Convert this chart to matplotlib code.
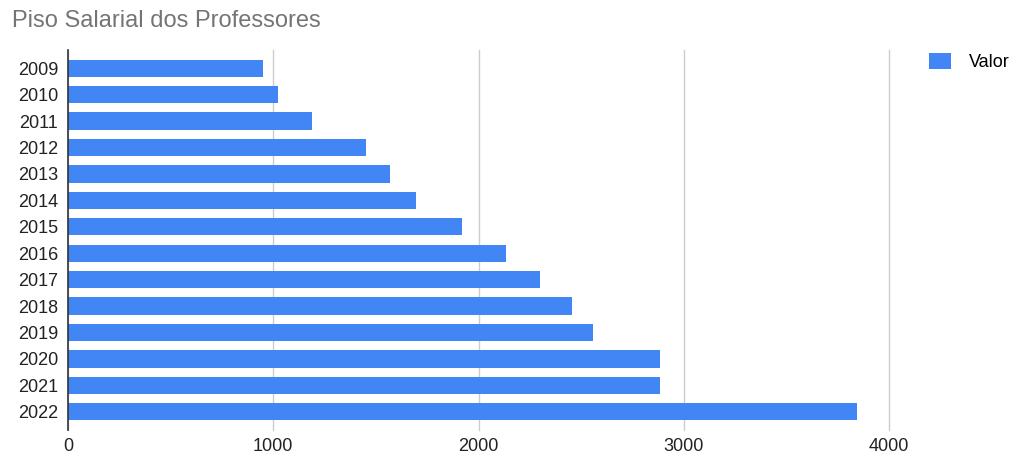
import matplotlib
matplotlib.use('Agg')
import matplotlib.pyplot as plt
import numpy as np

plt.rcParams['font.family'] = ['Liberation Sans', 'DejaVu Sans']

# ── Data ─────────────────────────────────────────────────────────────────────
YEARS = ['2009', '2010', '2011', '2012', '2013', '2014', '2015',
         '2016', '2017', '2018', '2019', '2020', '2021', '2022']
VALOR = [950, 1024.67, 1187.14, 1451, 1567, 1697, 1917.78,
         2135.64, 2298.80, 2455.35, 2557.74, 2886.24, 2886.24, 3845.63]
XTICKS = [0, 1000, 2000, 3000, 4000]

BLUE = '#4285F4'
GRID = '#cccccc'

fig = plt.figure(figsize=(10.13, 4.57), dpi=100)
ax = fig.add_axes([68 / 1013, 1 - 430 / 457, (889 - 68) / 1013, 380 / 457])

y = np.arange(len(YEARS))
ax.barh(y, VALOR, height=0.65, color=BLUE, label='Valor', zorder=3)
ax.set_ylim(len(YEARS) - 0.31, -0.69)
ax.set_yticks(y)
ax.set_yticklabels(YEARS, fontsize=13, color='#222222')

ax.set_xlim(0, 4000)
ax.set_xticks(XTICKS)
ax.set_xticklabels([str(v) for v in XTICKS], fontsize=13, color='#222222')
ax.tick_params(length=0, pad=6)
ax.tick_params(axis='y', pad=7)
ax.grid(axis='x', color=GRID, linewidth=1, zorder=0)
for line in ax.get_xgridlines():
    line.set_clip_on(False)

for s in ['top', 'right', 'bottom']:
    ax.spines[s].set_visible(False)
ax.spines['left'].set_color('#333333')
ax.spines['left'].set_linewidth(1.2)
ax.spines['left'].set_zorder(4)

fig.text(12 / 1013, 1 - 21 / 457, 'Piso Salarial dos Professores',
         fontsize=17, color='#757575', va='center', ha='left')

fig.legend(loc='upper left', bbox_to_anchor=(922 / 1013, 1 - 46 / 457),
           frameon=False, fontsize=13, handlelength=1.2, handleheight=1.0,
           handletextpad=1.0, borderaxespad=0)

fig.savefig('out.png', dpi=100, facecolor='white')
